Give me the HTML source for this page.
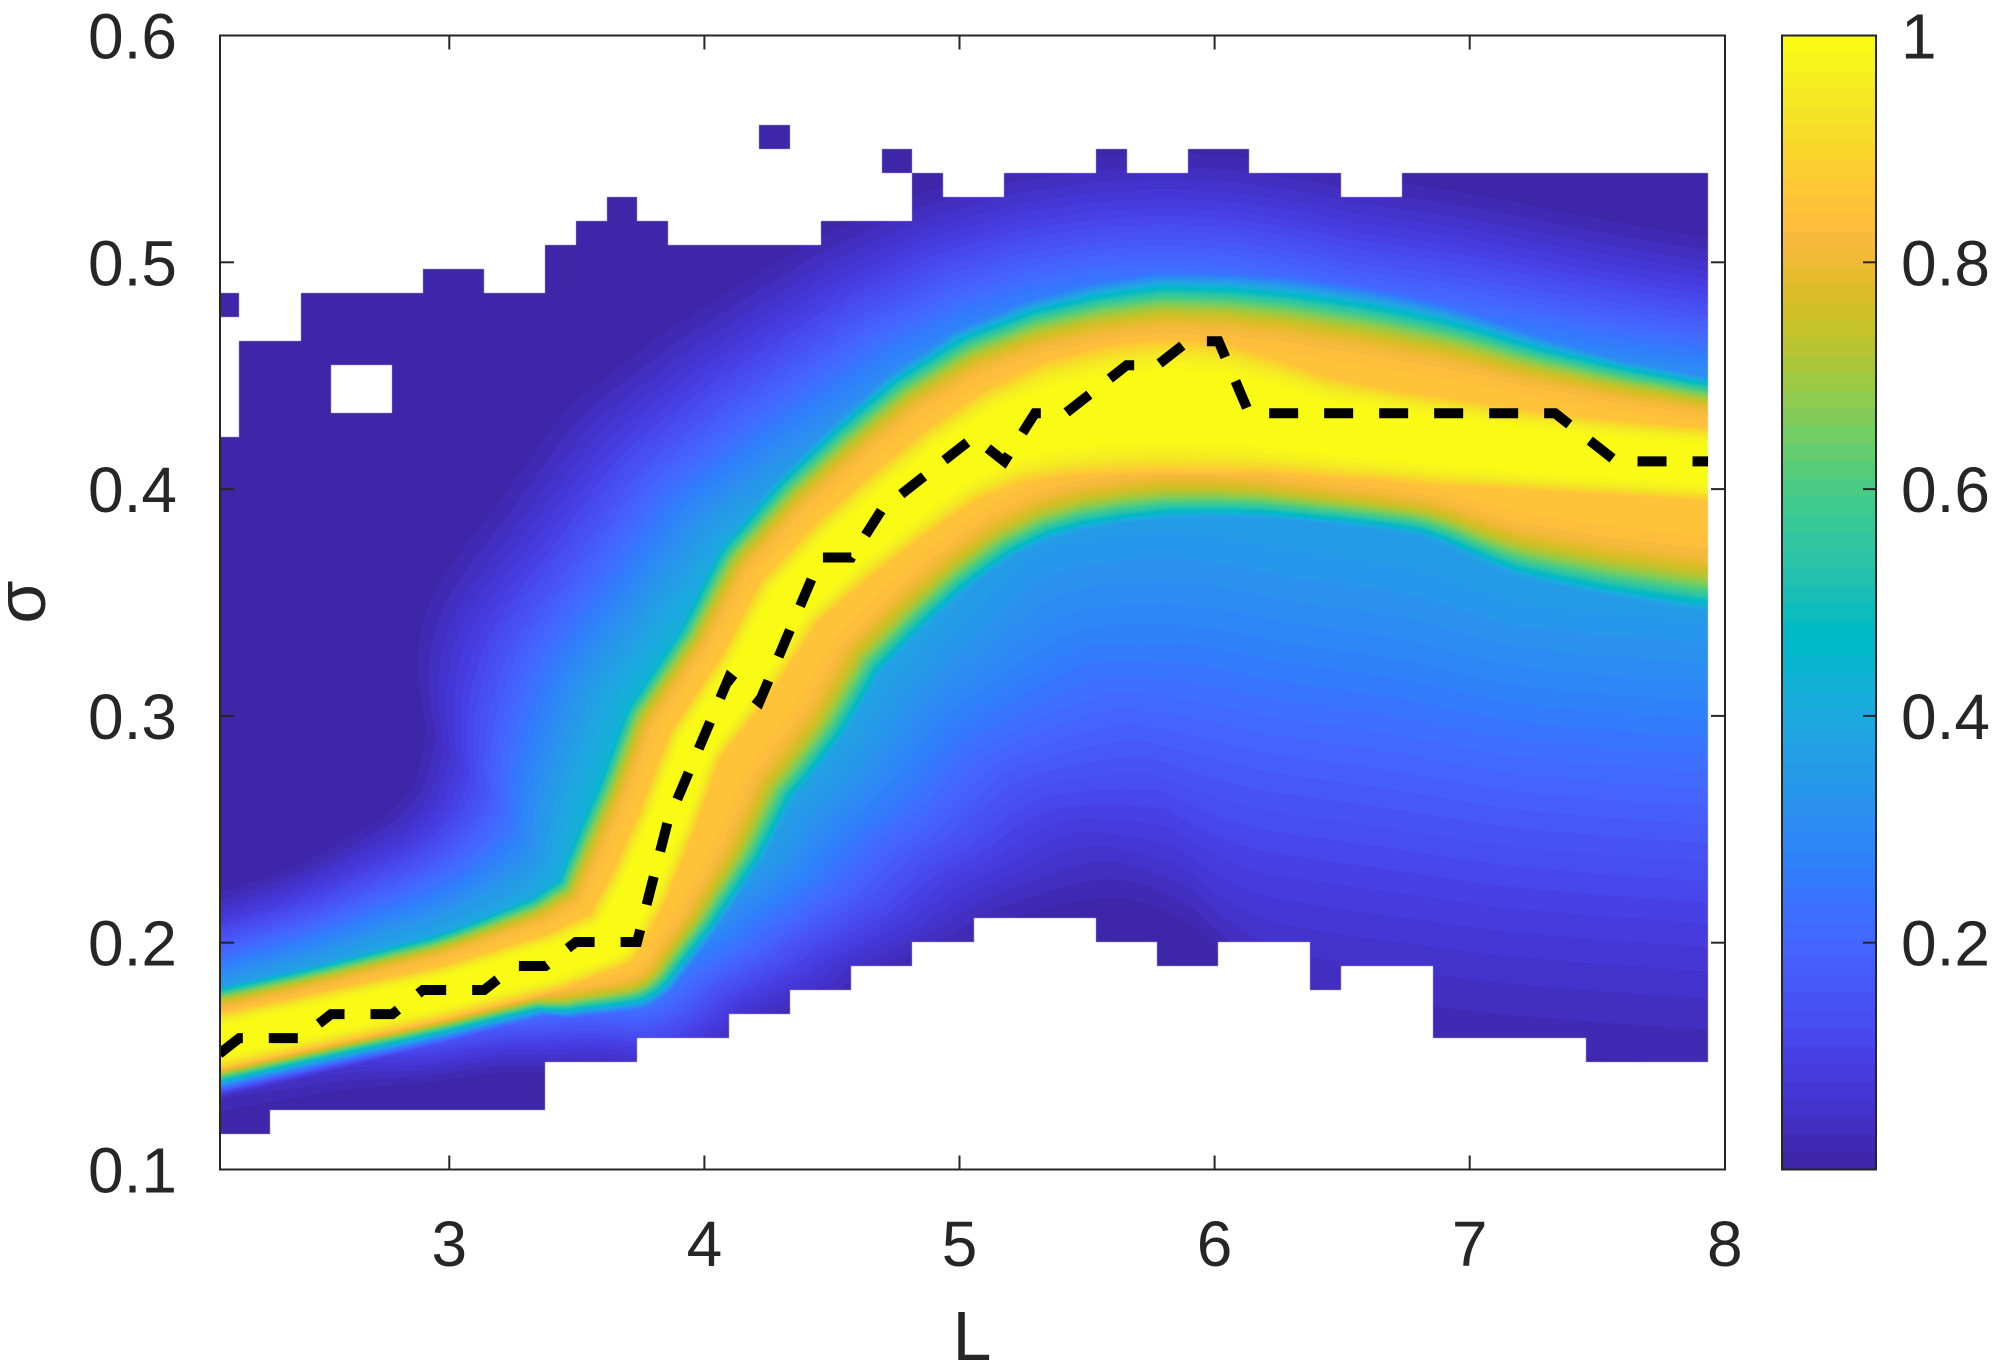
<!DOCTYPE html>
<html>
<head>
<meta charset="utf-8">
<style>
html,body{margin:0;padding:0;background:#fff;}
body{width:1996px;height:1370px;position:relative;overflow:hidden;}
canvas{position:absolute;left:220px;top:35px;}
svg{position:absolute;left:0;top:0;}
text{font-family:"Liberation Sans",Arial,sans-serif;fill:#262626;}
</style>
</head>
<body>
<canvas id="c" width="1505" height="1135" style="width:1505px;height:1135px"></canvas>
<svg width="1996" height="1370" viewBox="0 0 1996 1370" xmlns="http://www.w3.org/2000/svg">
<defs><clipPath id="pc"><rect x="220" y="35.5" width="1505" height="1134"/></clipPath></defs>
<g id="cbar"></g>
<polyline clip-path="url(#pc)" fill="none" stroke="#000" stroke-width="10" stroke-dasharray="29 26" stroke-dashoffset="-13.4" stroke-linejoin="miter" stroke-miterlimit="3"
points="208.7,1062.1 239.3,1038.1 300.5,1038.1 331.1,1014.1 392.3,1014.1 422.9,990.0 484.1,990.0 514.7,966.0 545.3,966.0 575.9,942.0 637.1,942.0 667.7,821.8 728.9,677.6 759.5,701.7 820.7,557.5 851.3,557.5 881.9,509.4 973.7,437.3 1004.3,461.4 1034.9,413.3 1065.5,413.3 1096.1,389.3 1126.7,365.2 1157.3,365.2 1187.9,341.2 1218.5,341.2 1249.1,413.3 1555.1,413.3 1616.3,461.4 1708.1,461.4"/>
<rect x="220" y="35.5" width="1505" height="1134" fill="none" stroke="#262626" stroke-width="2"/>
<g stroke="#262626" stroke-width="2">
<line x1="449.3" y1="1169.5" x2="449.3" y2="1155.5"/><line x1="704.4" y1="1169.5" x2="704.4" y2="1155.5"/><line x1="959.5" y1="1169.5" x2="959.5" y2="1155.5"/><line x1="1214.6" y1="1169.5" x2="1214.6" y2="1155.5"/><line x1="1469.7" y1="1169.5" x2="1469.7" y2="1155.5"/>
<line x1="449.3" y1="35.5" x2="449.3" y2="49.5"/><line x1="704.4" y1="35.5" x2="704.4" y2="49.5"/><line x1="959.5" y1="35.5" x2="959.5" y2="49.5"/><line x1="1214.6" y1="35.5" x2="1214.6" y2="49.5"/><line x1="1469.7" y1="35.5" x2="1469.7" y2="49.5"/>
<line x1="220" y1="942.7" x2="234" y2="942.7"/><line x1="220" y1="715.9" x2="234" y2="715.9"/><line x1="220" y1="489.1" x2="234" y2="489.1"/><line x1="220" y1="262.3" x2="234" y2="262.3"/>
<line x1="1725" y1="942.7" x2="1711" y2="942.7"/><line x1="1725" y1="715.9" x2="1711" y2="715.9"/><line x1="1725" y1="489.1" x2="1711" y2="489.1"/><line x1="1725" y1="262.3" x2="1711" y2="262.3"/>
</g>
<rect x="1782" y="35.5" width="94" height="1134" fill="none" stroke="#262626" stroke-width="2"/>
<g stroke="#262626" stroke-width="2">
<line x1="1876" y1="942.7" x2="1863" y2="942.7"/><line x1="1876" y1="715.9" x2="1863" y2="715.9"/><line x1="1876" y1="489.1" x2="1863" y2="489.1"/><line x1="1876" y1="262.3" x2="1863" y2="262.3"/>
</g>
<g font-size="64" text-anchor="end">
<text x="177" y="1192.5">0.1</text>
<text x="177" y="965.7">0.2</text>
<text x="177" y="738.9">0.3</text>
<text x="177" y="512.1">0.4</text>
<text x="177" y="285.3">0.5</text>
<text x="177" y="58.5">0.6</text>
</g>
<g font-size="64" text-anchor="middle">
<text x="449.3" y="1266">3</text>
<text x="704.4" y="1266">4</text>
<text x="959.5" y="1266">5</text>
<text x="1214.6" y="1266">6</text>
<text x="1469.7" y="1266">7</text>
<text x="1724.8" y="1266">8</text>
</g>
<g font-size="64" text-anchor="start">
<text x="1901" y="965.7">0.2</text>
<text x="1901" y="738.9">0.4</text>
<text x="1901" y="512.1">0.6</text>
<text x="1901" y="285.3">0.8</text>
<text x="1901" y="58.5">1</text>
</g>
<text x="972" y="1360" font-size="70" text-anchor="middle">L</text>
<text transform="translate(45,602) rotate(-90)" font-size="70" text-anchor="middle">σ</text>
</svg>
<script>
(function(){
var PAR=[[0.2422,0.1504,0.6603],[0.2504,0.1650,0.7076],[0.2578,0.1818,0.7511],[0.2647,0.1978,0.7952],[0.2706,0.2147,0.8364],[0.2751,0.2342,0.8710],[0.2783,0.2559,0.8991],[0.2803,0.2782,0.9221],[0.2813,0.3006,0.9414],[0.2810,0.3228,0.9579],[0.2795,0.3447,0.9717],[0.2760,0.3667,0.9829],[0.2699,0.3892,0.9906],[0.2602,0.4123,0.9952],[0.2440,0.4358,0.9988],[0.2206,0.4603,0.9973],[0.1963,0.4847,0.9892],[0.1834,0.5074,0.9798],[0.1786,0.5289,0.9682],[0.1764,0.5499,0.9520],[0.1687,0.5703,0.9359],[0.1540,0.5902,0.9218],[0.1460,0.6091,0.9079],[0.1380,0.6276,0.8973],[0.1248,0.6459,0.8883],[0.1113,0.6635,0.8763],[0.0952,0.6798,0.8598],[0.0689,0.6948,0.8394],[0.0297,0.7082,0.8163],[0.0036,0.7203,0.7917],[0.0067,0.7312,0.7660],[0.0433,0.7411,0.7394],[0.0964,0.7500,0.7120],[0.1408,0.7584,0.6842],[0.1717,0.7670,0.6554],[0.1938,0.7758,0.6251],[0.2161,0.7843,0.5923],[0.2470,0.7918,0.5567],[0.2906,0.7973,0.5188],[0.3406,0.8008,0.4789],[0.3909,0.8029,0.4354],[0.4456,0.8024,0.3909],[0.5044,0.7993,0.3480],[0.5616,0.7942,0.3045],[0.6174,0.7876,0.2612],[0.6720,0.7793,0.2227],[0.7242,0.7698,0.1910],[0.7738,0.7598,0.1646],[0.8203,0.7498,0.1535],[0.8634,0.7406,0.1596],[0.9035,0.7330,0.1774],[0.9393,0.7288,0.2100],[0.9728,0.7298,0.2394],[0.9956,0.7434,0.2371],[0.9970,0.7659,0.2199],[0.9952,0.7893,0.2028],[0.9892,0.8136,0.1885],[0.9786,0.8386,0.1766],[0.9676,0.8639,0.1643],[0.9610,0.8890,0.1537],[0.9597,0.9135,0.1423],[0.9628,0.9373,0.1265],[0.9691,0.9606,0.1064],[0.9769,0.9839,0.0805]];
var C8=PAR.map(function(c){return [Math.round(c[0]*255),Math.round(c[1]*255),Math.round(c[2]*255)];});
var g=document.getElementById('cbar'),ns='http://www.w3.org/2000/svg',h=1134/64;
for(var i=0;i<64;i++){
  var y0=1169.5-(i+1)*h;
  var r=document.createElementNS(ns,'rect');
  r.setAttribute('x',1782);r.setAttribute('y',y0.toFixed(2));r.setAttribute('width',94);r.setAttribute('height',(h+0.6).toFixed(2));
  r.setAttribute('fill','rgb('+C8[i][0]+','+C8[i][1]+','+C8[i][2]+')');
  g.appendChild(r);
}
var top=[],bot=[];
function setr(a,b,t,bb){for(var k=a;k<=b;k++){if(t!==null)top[k]=t;if(bb!==null)bot[k]=bb;}}
setr(0,0,29,null);setr(1,2,33,null);setr(3,6,35,null);setr(7,8,36,null);setr(9,10,35,null);
setr(11,11,37,null);setr(12,12,38,null);setr(13,13,39,null);setr(14,14,38,null);setr(15,19,37,null);
setr(20,22,38,null);setr(23,23,40,null);setr(24,25,39,null);setr(26,28,40,null);setr(29,29,41,null);
setr(30,31,40,null);setr(32,33,41,null);setr(34,36,40,null);setr(37,38,39,null);setr(39,48,40,null);
setr(0,1,null,0);setr(2,10,null,1);setr(11,13,null,3);setr(14,16,null,4);setr(17,18,null,5);
setr(19,20,null,6);setr(21,22,null,7);setr(23,24,null,8);setr(25,28,null,9);setr(29,30,null,8);
setr(31,32,null,7);setr(33,35,null,8);setr(36,36,null,6);setr(37,39,null,7);setr(40,44,null,4);setr(45,48,null,3);
// x,y, W1u,W1d, W2u,W2d, Au,Su, Ad,Sd
var P=[
[150,1058,24,22,38,0,.5,70,.1,40],
[220,1042,24,22,38,0,.5,70,.1,40],
[309,1022,23,22,38,0,.5,75,.15,40],
[443,991,21,23,40,0,.48,90,.3,45],
[555,960,23,25,46,38,.48,110,.35,55],
[612,938,27,26,58,52,.5,130,.4,80],
[640,885,26,26,58,62,.5,145,.42,120],
[668,818,25,25,56,74,.5,150,.45,170],
[695,745,24,24,56,80,.5,150,.45,190],
[747,673,27,27,58,82,.5,150,.45,200],
[790,600,30,30,62,82,.48,145,.45,210],
[845,548,33,33,68,80,.46,140,.42,230],
[900,503,35,35,72,76,.45,135,.4,250],
[953,462,36,38,74,78,.45,130,.38,270],
[1006,432,40,45,76,82,.45,125,.38,290],
[1059,416,48,52,80,82,.45,125,.38,300],
[1112,408,53,56,84,82,.45,125,.38,300],
[1165,405,56,57,88,80,.45,125,.38,300],
[1218,408,56,56,88,78,.45,125,.38,300],
[1270,416,48,48,92,72,.45,125,.38,300],
[1323,427,41,41,96,66,.45,125,.38,300],
[1429,440,38,38,90,66,.45,125,.38,300],
[1535,451,34,34,76,90,.45,120,.4,300],
[1620,458,32,32,66,98,.45,115,.4,300],
[1720,465,31,31,58,104,.45,110,.4,300],
[1800,470,31,31,58,104,.45,110,.4,300]];
var NS=P.length-1,AX=[],AY=[],DX=[],DY=[],L2=[];
for(var q0=0;q0<NS;q0++){AX.push(P[q0][0]);AY.push(P[q0][1]);var dx=P[q0+1][0]-P[q0][0],dy=P[q0+1][1]-P[q0][1];DX.push(dx);DY.push(dy);L2.push(dx*dx+dy*dy);}
var DS=new Float64Array(NS),TS=new Float64Array(NS);
var TAU=22;
var cv=document.getElementById('c'),ctx=cv.getContext('2d');
var W=cv.width,H=cv.height,img=ctx.createImageData(W,H),D=img.data;
for(var py=0;py<H;py++){
  var y=35+py+0.5;
  var jf=(1134.2-y)/24.03, r=Math.floor(jf);
  for(var px=0;px<W;px++){
    var x=220+px+0.5;
    if(x>1708.1)break;
    var k=x<239.3?0:Math.floor((x-239.3)/30.6)+1; if(k>48)k=48;
    var ins=(r>=bot[k]&&r<top[k]);
    if(ins&&(k===4||k===5)&&(r===30||r===31))ins=false;
    if(!ins){if((k===0&&r===34)||(k===18&&r===41)||(k===22&&r===40))ins=true;}
    if(!ins)continue;
    var best=1e18,bi=0;
    for(var q=0;q<NS;q++){
      var t=((x-AX[q])*DX[q]+(y-AY[q])*DY[q])/L2[q];
      if(t<0)t=0;else if(t>1)t=1;
      var ex=AX[q]+t*DX[q]-x,ey=AY[q]+t*DY[q]-y,d2=ex*ex+ey*ey;
      DS[q]=d2;TS[q]=t;
      if(d2<best){best=d2;bi=q;}
    }
    var dmin=Math.sqrt(best);
    var cr=DX[bi]*(y-AY[bi])-DY[bi]*(x-AX[bi]);
    var o=(cr<0)?0:1;
    var sw=0,pW1=0,pW2=0,pA=0,pS=0;
    var lim=dmin+6*TAU, lim2=lim*lim;
    for(var q2=0;q2<NS;q2++){
      if(DS[q2]>lim2)continue;
      var dd=Math.sqrt(DS[q2]);
      var w=Math.exp(-(dd-dmin)/TAU);
      var a=P[q2],b=P[q2+1],tt=TS[q2];
      pW1+=w*(a[2+o]+(b[2+o]-a[2+o])*tt);
      pW2+=w*(a[4+o]+(b[4+o]-a[4+o])*tt);
      pA+=w*(a[6+2*o]+(b[6+2*o]-a[6+2*o])*tt);
      pS+=w*(a[7+2*o]+(b[7+2*o]-a[7+2*o])*tt);
      sw+=w;
    }
    pW1/=sw;pW2/=sw;pA/=sw;pS/=sw;
    var d=dmin;
    var u=d/(1.565*pW1),u2=u*u,core=Math.exp(-0.5*u2*u2);
    var sh=0;
    if(pW2>1){var ww=d/pW2,w2=ww*ww;sh=0.855*Math.exp(-0.105*w2*w2*w2);}
    var z=d/pS,ge=Math.exp(-0.5*z*z),tail=pA*Math.max(0,(ge-0.1)/0.9);
    var v=core; if(sh>v)v=sh; if(tail>v)v=tail;
    var ci=Math.floor(v*64); if(ci>63)ci=63; if(ci<0)ci=0;
    var idx=(py*W+px)*4, c=C8[ci];
    D[idx]=c[0];D[idx+1]=c[1];D[idx+2]=c[2];D[idx+3]=255;
  }
}
ctx.putImageData(img,0,0);
})();
</script>
</body>
</html>
